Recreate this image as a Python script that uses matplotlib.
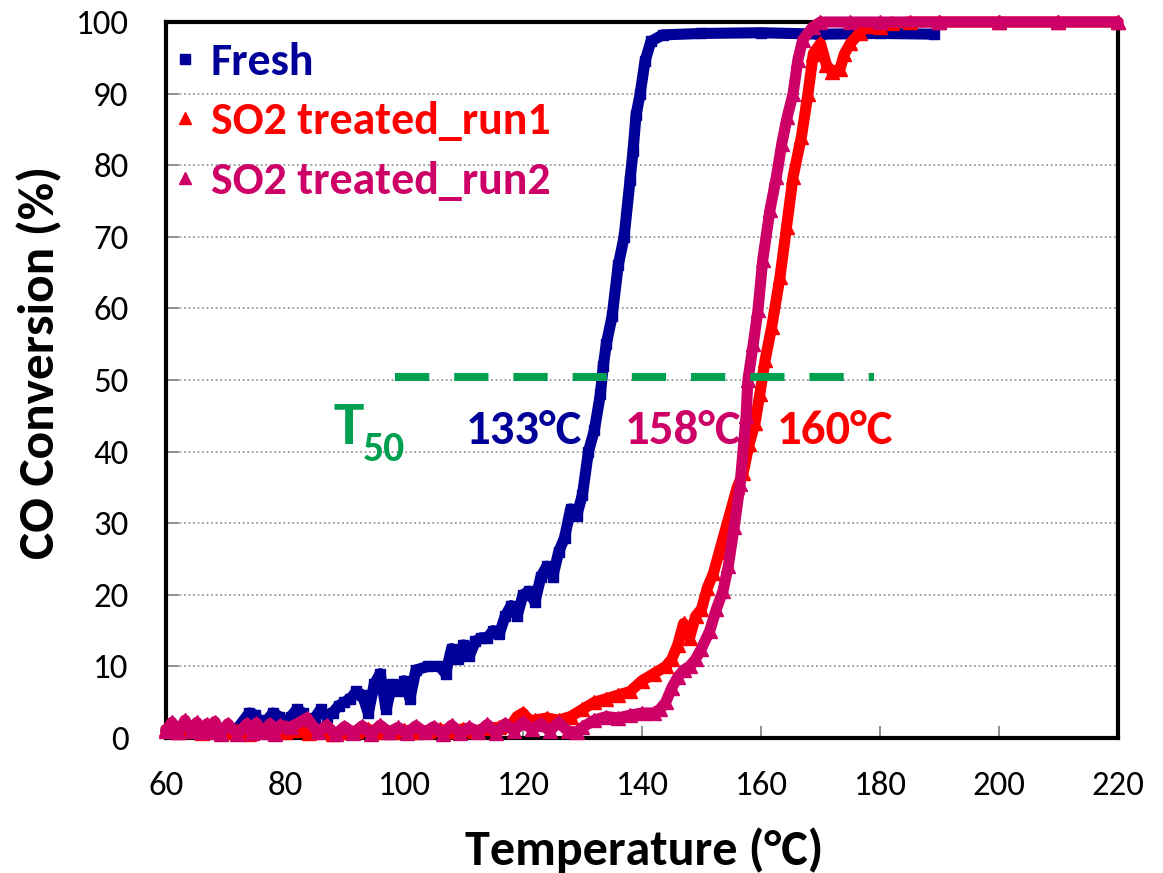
import matplotlib
matplotlib.use('Agg')
import matplotlib.pyplot as plt
from matplotlib.lines import Line2D

# Fresh catalyst
FRESH_T = [60, 62, 64, 66, 68, 70, 72, 74, 75, 76, 77, 78, 79, 80, 81, 82, 83, 84, 85, 86,
           87, 88, 89, 90, 91, 92, 93, 94, 95, 96, 97, 98, 99, 100, 101, 102, 104, 106, 107, 108,
           109, 110, 111, 112, 113, 114, 115, 116, 117, 118, 119, 120, 121, 122, 123, 124, 125, 126, 127, 128,
           129, 130, 131, 132, 133, 133.5, 134, 135, 136, 137, 138, 138.5, 139, 139.7, 140.5, 141.5, 143.5, 150, 160, 170,
           180, 189]
FRESH_C = [1.0, 0.8, 1.2, 0.9, 1.1, 1.0, 1.3, 3.5, 3.2, 2.0, 2.5, 3.5, 3.0, 2.0, 3.0, 4.0, 3.5, 2.0, 2.8, 4.0,
           3.0, 3.5, 4.5, 5.0, 5.5, 6.5, 6.0, 3.5, 7.5, 9.0, 4.0, 7.5, 6.5, 8.0, 5.5, 9.5, 10.0, 10.0, 9.0, 12.5,
           11.0, 13.0, 11.5, 13.5, 14.0, 14.0, 15.0, 14.5, 17.0, 18.5, 17.0, 20.0, 20.5, 19.0, 22.5, 24.0, 22.5, 26.0, 28.0, 32.0,
           31.0, 34.0, 40.0, 43.0, 48.0, 52.0, 55.0, 59.0, 66.0, 70.0, 78.0, 82.0, 87.0, 90.0, 94.5, 97.3, 98.2, 98.4, 98.5, 98.3,
           98.4, 98.3]

# SO2 treated, run 1
RUN1_T = [60, 62, 64, 66, 68, 70, 72, 74, 76, 78, 80, 82, 84, 86, 88, 90, 92, 94, 96, 98,
          100, 102, 104, 106, 108, 110, 112, 114, 116, 118, 119, 120, 121, 122, 124, 126, 128, 130, 132, 134,
          136, 138, 140, 142, 144, 145, 146, 147, 148, 149, 150, 151, 152, 153, 154, 155, 156, 157, 158, 159,
          159.8, 160.7, 161.8, 163.2, 164.3, 165.4, 166.8, 167.9, 168.8, 170, 171, 172, 173.3, 174, 175, 176.6, 178, 180, 182, 185,
          190, 200, 210, 220]
RUN1_C = [1.2, 0.8, 1.0, 0.7, 1.0, 0.8, 1.0, 0.6, 1.2, 0.8, 0.9, 1.1, 0.7, 1.0, 0.6, 0.8, 1.0, 1.2, 0.9, 0.8,
          1.1, 0.9, 1.0, 1.2, 1.0, 1.3, 1.0, 1.4, 1.5, 1.8, 3.0, 3.5, 2.5, 2.5, 2.8, 2.5, 3.0, 4.0, 5.0, 5.5,
          6.0, 6.5, 8.0, 9.0, 10.0, 11.0, 13.0, 16.0, 14.0, 17.0, 18.0, 21.0, 23.0, 26.0, 29.0, 32.0, 35.0, 37.0, 41.0, 44.0,
          48.0, 52.8, 57.4, 64.4, 71.4, 78.4, 84.0, 90.0, 95.6, 97.0, 94.0, 93.0, 93.5, 95.5, 97.0, 98.5, 99.5, 99.3, 99.8, 100.0,
          100.0, 100.0, 100.0, 100.0]

# SO2 treated, run 2
RUN2_T = [60, 61, 62, 63.2, 64.2, 65.2, 66, 66.9, 67.6, 68.2, 69.3, 70.4, 72, 73.6, 74.4, 75.2, 76.3, 77.5, 78.3, 79.2,
          81, 83.7, 85.5, 87, 88.5, 90, 91.5, 93, 94.5, 96, 97.5, 99, 100.5, 102, 103.5, 105, 106.5, 108, 109.5, 111,
          112.5, 114, 115.5, 117, 118.5, 120, 121.5, 123, 124.5, 126, 127.5, 129, 130, 132, 134, 136, 138,
          140, 142, 143, 144, 145, 146, 147, 148, 149, 150, 151.4, 152.5, 153.6, 154.5, 155.5, 156.5, 157.5, 157.8, 158.7, 159.5,
          160.3, 161.5, 162.6, 163.5, 164.4, 165.4, 166.2, 167, 168.7, 170, 175, 180, 190, 200, 210, 220]
RUN2_C = [1.0, 2.2, 0.8, 2.5, 1.0, 2.2, 0.8, 2.0, 0.9, 2.3, 0.6, 2.0, 0.5, 2.0, 0.7, 2.1, 0.8, 2.0, 0.6, 1.8,
          1.5, 2.8, 0.8, 1.8, 0.5, 1.6, 0.7, 1.7, 0.6, 1.8, 0.8, 1.5, 0.7, 1.7, 0.8, 1.6, 0.6, 1.8, 0.7, 1.5,
          0.8, 1.9, 0.7, 2.0, 1.0, 2.2, 1.2, 2.0, 1.0, 2.2, 1.0, 0.8, 1.5, 2.5, 3.0, 2.8, 3.2,
          3.5, 3.5, 4.0, 5.0, 7.0, 8.5, 9.5, 10.0, 11.0, 12.5, 15.0, 18.0, 20.5, 24.0, 29.5, 35.5, 45.0, 50.0, 55.0, 59.8,
          66.8, 73.7, 78.4, 83.0, 86.7, 90.0, 94.7, 97.5, 99.3, 100.0, 100.0, 100.0, 100.0, 100.0, 100.0, 100.0]

SERIES = ['Fresh', 'SO2 treated_run1', 'SO2 treated_run2']
COLORS = ['#000099', '#FF0000', '#CC0066']
MARKERS = ['s', '^', '^']

T50_X = [98.5, 179.0]
T50_Y = [50.4, 50.4]
T50_LABELS = ['133°C', '158°C', '160°C']
T50_LABEL_X = [110.3, 137.1, 162.7]

FONT = 'Carlito'


def main():
    plt.rcParams['font.family'] = [FONT, 'DejaVu Sans']
    fig = plt.figure(figsize=(11.63, 8.73), dpi=100)
    ax = fig.add_axes([0.1427, 0.1546, 0.8186, 0.8202])

    data = [(FRESH_T, FRESH_C), (RUN1_T, RUN1_C), (RUN2_T, RUN2_C)]
    for (t, c), col, mk in zip(data, COLORS, MARKERS):
        ax.plot(t, c, color=col, lw=8, marker=mk, ms=10 if mk == '^' else 7,
                solid_joinstyle='round', solid_capstyle='round', clip_on=False, zorder=3)

    ax.set_xlim(60, 220)
    ax.set_ylim(0, 100)
    ax.set_xticks(range(60, 221, 20))
    ax.set_yticks(range(0, 101, 10))
    ax.yaxis.grid(True, color='#999999', linestyle=(0, (1, 1.5)), lw=1.3)
    ax.set_axisbelow(True)
    for s in ax.spines.values():
        s.set_linewidth(3)
        s.set_color('black')
    ax.tick_params(direction='in', length=9, width=1.3, color='#888888',
                   labelsize=25, labelcolor='black')
    ax.tick_params(axis='y', pad=27)
    ax.tick_params(axis='x', pad=24)

    # T50 marker line and labels
    ax.plot(T50_X, T50_Y, color='#00A050', lw=5.8, linestyle=(0, (4.25, 3.1)),
            solid_capstyle='butt', dash_capstyle='butt', zorder=4)
    ax.text(88.2, 41.1, 'T', color='#00A050', fontsize=44, fontweight='bold')
    ax.text(93.1, 38.7, '50', color='#00A050', fontsize=30, fontweight='bold')
    for lab, x, col in zip(T50_LABELS, T50_LABEL_X, [COLORS[0], COLORS[2], COLORS[1]]):
        ax.text(x, 41.1, lab, color=col, fontsize=35, fontweight='bold', zorder=5)

    handles = [Line2D([], [], color=c, marker=m, linestyle='None', ms=8 if m == '^' else 6.5)
               for c, m in zip(COLORS, MARKERS)]
    ax.legend(handles, SERIES, loc='upper left', bbox_to_anchor=(0.006, 0.972),
              frameon=False, labelcolor=COLORS, handlelength=0.6, handletextpad=0.25,
              borderaxespad=0, borderpad=0, labelspacing=0.42,
              prop={'family': FONT, 'weight': 'bold', 'size': 33})

    fig.text(40 / 1163, 1 - 362 / 873, 'CO Conversion (%)', rotation=90, ha='center', va='center',
             fontsize=37, fontweight='bold')
    fig.text(644 / 1163, 1 - 850 / 873, 'Temperature (°C)', ha='center', va='center',
             fontsize=36, fontweight='bold')

    fig.savefig('out.png', dpi=100)


if __name__ == '__main__':
    main()
